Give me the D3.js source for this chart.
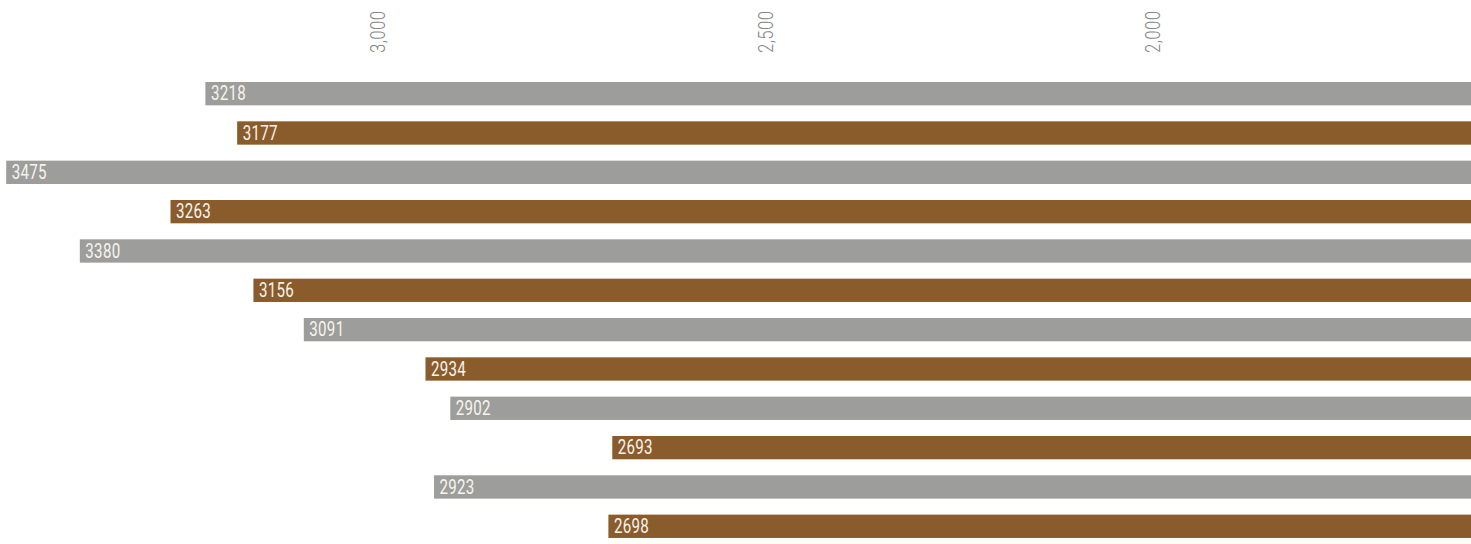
<!DOCTYPE html>
<html>
<head>
<meta charset="utf-8">
<script src="https://cdn.jsdelivr.net/npm/d3@7"></script>
<style>
  html, body { margin: 0; padding: 0; background: #fff; }
  svg { display: block; }
</style>
</head>
<body>
<svg id="chart" width="1471" height="544"></svg>
<script>
const categories = ["r1","r2","r3","r4","r5","r6","r7","r8","r9","r10","r11","r12"];
const values = [3218, 3177, 3475, 3263, 3380, 3156, 3091, 2934, 2902, 2693, 2923, 2698];
const seriesColors = ["#9d9d9b", "#8a5c2c"];
const tickValues = [3000, 2500, 2000];

const W = 1471, H = 544;
const svg = d3.select("#chart");

const x = d3.scaleLinear().domain([3483, 1585]).range([0, W]);
const y = d3.scaleBand().domain(categories).range([74, 74 + 12 * 39.33])
  .paddingInner(0.407).paddingOuter(0.2035);

const font = "Roboto, 'Noto Sans', sans-serif";
const squeeze = 0.72;

// axis labels (rotated)
const axis = d3.axisTop(x).tickValues(tickValues).tickFormat(d3.format(",")).tickSize(0);
const ag = svg.append("g").call(axis);
ag.select(".domain").remove();
ag.selectAll(".tick").attr("transform", d => `translate(${x(d)},0)`);
ag.selectAll("text")
  .attr("transform", `translate(0,53) rotate(-90) scale(0.8,1)`)
  .attr("x", 0).attr("y", 0).attr("dy", "0.52em")
  .attr("text-anchor", "start")
  .style("font-family", font).style("font-size", "21px").style("font-weight", 300)
  .style("letter-spacing", "0.5px")
  .attr("fill", "#858585");

const rows = svg.append("g").selectAll("g").data(values).join("g");
rows.append("rect")
  .attr("x", d => x(d))
  .attr("y", (d, i) => y(categories[i]))
  .attr("width", d => W - x(d))
  .attr("height", y.bandwidth())
  .attr("fill", (d, i) => seriesColors[i % 2]);
rows.append("text")
  .attr("transform", (d, i) => `translate(${x(d) + 5.5},${y(categories[i]) + y.bandwidth() - 5}) scale(${squeeze},1)`)
  .text(d => d)
  .style("font-family", font).style("font-size", "21px")
  .style("letter-spacing", "0.4px")
  .attr("fill", "#f7f4ee");
</script>
</body>
</html>
